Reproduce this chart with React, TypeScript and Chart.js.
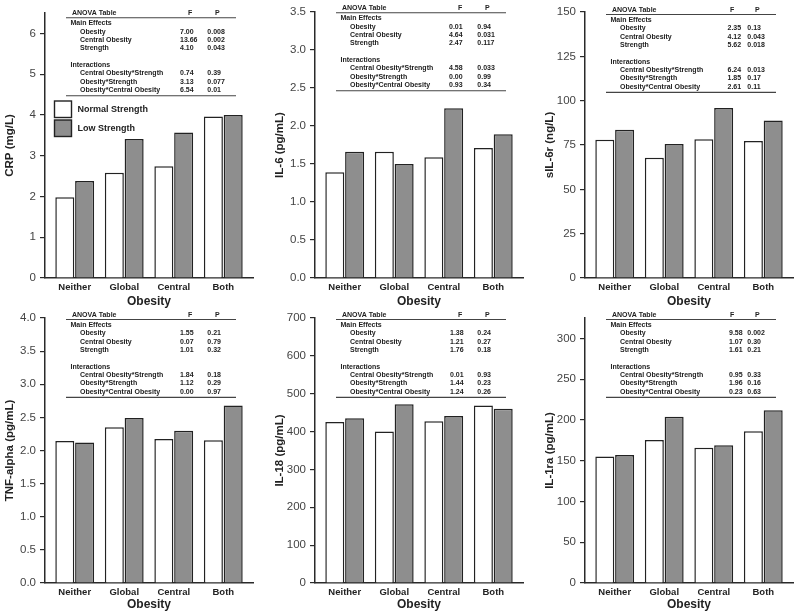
import React, { useEffect, useRef } from 'react';
import { Chart, registerables } from 'chart.js';

Chart.register(...registerables);

const categories = ['Neither', 'Global', 'Central', 'Both'];
const seriesNames = ['Normal Strength', 'Low Strength'];
const mainEffects = ['Obesity', 'Central Obesity', 'Strength'];
const interactions = ['Central Obesity*Strength', 'Obesity*Strength', 'Obesity*Central Obesity'];

const crpNormal = [1.98, 2.58, 2.74, 3.96];
const crpLow = [2.38, 3.41, 3.57, 4.0];
const il6Normal = [1.39, 1.66, 1.59, 1.71];
const il6Low = [1.66, 1.5, 2.235, 1.89];
const sil6rNormal = [77.9, 67.8, 78.3, 77.3];
const sil6rLow = [83.6, 75.6, 95.8, 88.8];
const tnfNormal = [2.145, 2.35, 2.175, 2.155];
const tnfLow = [2.12, 2.49, 2.3, 2.68];
const il18Normal = [425, 400, 427, 469];
const il18Low = [435, 472, 441, 460];
const il1raNormal = [155, 175.5, 166, 186];
const il1raLow = [157, 204, 169, 212];

const crpTicks = [0, 1, 2, 3, 4, 5, 6];
const il6Ticks = [0, 0.5, 1, 1.5, 2, 2.5, 3, 3.5];
const sil6rTicks = [0, 25, 50, 75, 100, 125, 150];
const tnfTicks = [0, 0.5, 1, 1.5, 2, 2.5, 3, 3.5, 4];
const il18Ticks = [0, 100, 200, 300, 400, 500, 600, 700];
const il1raTicks = [0, 50, 100, 150, 200, 250, 300];

const crpF = ['7.00', '13.66', '4.10', '0.74', '3.13', '6.54'];
const crpP = ['0.008', '0.002', '0.043', '0.39', '0.077', '0.01'];
const il6F = ['0.01', '4.64', '2.47', '4.58', '0.00', '0.93'];
const il6P = ['0.94', '0.031', '0.117', '0.033', '0.99', '0.34'];
const sil6rF = ['2.35', '4.12', '5.62', '6.24', '1.85', '2.61'];
const sil6rP = ['0.13', '0.043', '0.018', '0.013', '0.17', '0.11'];
const tnfF = ['1.55', '0.07', '1.01', '1.84', '1.12', '0.00'];
const tnfP = ['0.21', '0.79', '0.32', '0.18', '0.29', '0.97'];
const il18F = ['1.38', '1.21', '1.76', '0.01', '1.44', '1.24'];
const il18P = ['0.24', '0.27', '0.18', '0.93', '0.23', '0.26'];
const il1raF = ['9.58', '1.07', '1.61', '0.95', '1.96', '0.23'];
const il1raP = ['0.002', '0.30', '0.21', '0.33', '0.16', '0.63'];

const FAM = "'Liberation Sans', Arial, Helvetica, sans-serif";
const INK = '#222222';
const GREY = '#8e8e8e';

type PanelDef = {
  left: number; top: number; padTop: number; xHeight: number;
  yTitle: string; max: number; ticks: number[]; decimals: number;
  normal: number[]; low: number[]; F: string[]; P: string[];
  tableTop: number; fColX: number; fHeadX: number; legend?: boolean;
};

const panels: PanelDef[] = [
  { left: 0, top: 0, padTop: 13, xHeight: 32, yTitle: 'CRP (mg/L)', max: 6.5, ticks: crpTicks, decimals: 0, normal: crpNormal, low: crpLow, F: crpF, P: crpP, tableTop: 13.3, fColX: 180, fHeadX: 188, legend: true },
  { left: 270, top: 0, padTop: 12, xHeight: 32, yTitle: 'IL-6 (pg/mL)', max: 3.5, ticks: il6Ticks, decimals: 1, normal: il6Normal, low: il6Low, F: il6F, P: il6P, tableTop: 8.3, fColX: 179, fHeadX: 188 },
  { left: 540, top: 0, padTop: 12, xHeight: 32, yTitle: 'sIL-6r (ng/L)', max: 150, ticks: sil6rTicks, decimals: 0, normal: sil6rNormal, low: sil6rLow, F: sil6rF, P: sil6rP, tableTop: 10, fColX: 187.5, fHeadX: 190 },
  { left: 0, top: 303, padTop: 15, xHeight: 30, yTitle: 'TNF-alpha (pg/mL)', max: 4, ticks: tnfTicks, decimals: 1, normal: tnfNormal, low: tnfLow, F: tnfF, P: tnfP, tableTop: 12, fColX: 180, fHeadX: 188 },
  { left: 270, top: 303, padTop: 15, xHeight: 30, yTitle: 'IL-18 (pg/mL)', max: 700, ticks: il18Ticks, decimals: 0, normal: il18Normal, low: il18Low, F: il18F, P: il18P, tableTop: 12, fColX: 180, fHeadX: 188 },
  { left: 540, top: 303, padTop: 15, xHeight: 30, yTitle: 'IL-1ra (pg/mL)', max: 325, ticks: il1raTicks, decimals: 0, normal: il1raNormal, low: il1raLow, F: il1raF, P: il1raP, tableTop: 12, fColX: 189, fHeadX: 190 },
];

function drawTable(ctx: CanvasRenderingContext2D, p: PanelDef) {
  const T = p.tableTop;
  const x1 = 66, x2 = 236, pCol = 207.3, pHead = 215;
  ctx.save();
  ctx.fillStyle = INK;
  ctx.textBaseline = 'middle';
  ctx.textAlign = 'left';
  ctx.font = `bold 7px ${FAM}`;
  ctx.fillText('ANOVA Table', 72, T);
  ctx.fillText('F', p.fHeadX, T);
  ctx.fillText('P', pHead, T);
  ctx.fillText('Main Effects', 70.5, T + 10);
  const rowY = [T + 18.4, T + 26.7, T + 35, T + 60, T + 68.4, T + 76.7];
  const labels = [...mainEffects, ...interactions];
  labels.forEach((lab, i) => {
    ctx.fillText(lab, 80, rowY[i]);
    ctx.fillText(p.F[i], p.fColX, rowY[i]);
    ctx.fillText(p.P[i], pCol, rowY[i]);
  });
  ctx.fillText('Interactions', 70.5, T + 52);
  ctx.strokeStyle = '#444';
  ctx.lineWidth = 1.1;
  [T + 4.5, T + 82.4].forEach((y) => {
    ctx.beginPath();
    ctx.moveTo(x1, y);
    ctx.lineTo(x2, y);
    ctx.stroke();
  });
  ctx.restore();
}

function drawLegend(ctx: CanvasRenderingContext2D) {
  ctx.save();
  const boxes = [
    { y: 101, fill: '#ffffff', text: seriesNames[0] },
    { y: 120, fill: GREY, text: seriesNames[1] },
  ];
  boxes.forEach((b) => {
    ctx.fillStyle = b.fill;
    ctx.fillRect(54.5, b.y, 17, 16.5);
    ctx.strokeStyle = INK;
    ctx.lineWidth = 1.4;
    ctx.strokeRect(54.5, b.y, 17, 16.5);
    ctx.fillStyle = INK;
    ctx.font = `bold 9px ${FAM}`;
    ctx.textBaseline = 'middle';
    ctx.textAlign = 'left';
    ctx.fillText(b.text, 77.5, b.y + 8.5);
  });
  ctx.restore();
}

function Panel({ p }: { p: PanelDef }) {
  const ref = useRef<HTMLCanvasElement>(null);
  useEffect(() => {
    if (!ref.current) return;
    const overlay = {
      id: 'anovaOverlay',
      afterDraw(chart: any) {
        const ctx = chart.ctx as CanvasRenderingContext2D;
        drawTable(ctx, p);
        if (p.legend) drawLegend(ctx);
      },
    };
    const chart = new Chart(ref.current, {
      type: 'bar',
      data: {
        datasets: [
          {
            label: seriesNames[0],
            data: p.normal.map((v, i) => ({ x: i, y: v })),
            backgroundColor: '#ffffff',
            borderColor: INK,
            borderWidth: 1.5,
          },
          {
            label: seriesNames[1],
            data: p.low.map((v, i) => ({ x: i, y: v })),
            backgroundColor: GREY,
            borderColor: INK,
            borderWidth: 1.5,
          },
        ],
      },
      options: {
        responsive: false,
        animation: false,
        devicePixelRatio: 1,
        layout: { padding: { top: p.padTop, right: 7, left: 0, bottom: 0 } },
        plugins: { legend: { display: false }, tooltip: { enabled: false } },
        datasets: { bar: { categoryPercentage: 0.8, barPercentage: 0.96 } },
        scales: {
          x: {
            type: 'linear',
            min: -0.6,
            max: 3.6,
            offset: false,
            grid: { display: false, drawTicks: false, offset: false },
            border: { display: true, color: '#2a2a2a', width: 1.5 },
            ticks: {
              font: { family: FAM, size: 9.5, weight: 'bold' },
              color: INK,
              padding: 4,
              autoSkip: false,
              maxRotation: 0,
              callback: (v: any) => categories[Math.round(Number(v))] ?? '',
            },
            afterBuildTicks: (s: any) => {
              s.ticks = categories.map((_, i) => ({ value: i }));
            },
            afterFit: (s: any) => {
              s.height = p.xHeight;
            },
            title: {
              display: true,
              text: 'Obesity',
              font: { family: FAM, size: 12, weight: 'bold' },
              color: INK,
              padding: { top: 0, bottom: 1.5 },
            },
          },
          y: {
            min: 0,
            max: p.max,
            grid: { display: true, drawOnChartArea: false, drawTicks: true, tickLength: 5, color: '#2a2a2a', lineWidth: 1.2 },
            border: { display: true, color: '#2a2a2a', width: 1.5 },
            ticks: {
              font: { family: FAM, size: 11.5 },
              color: '#444444',
              padding: 4,
              callback: (v: any) => Number(v).toFixed(p.decimals),
            },
            afterBuildTicks: (s: any) => {
              s.ticks = p.ticks.map((v) => ({ value: v }));
            },
            afterFit: (s: any) => {
              s.width = 45;
            },
            title: {
              display: true,
              text: p.yTitle,
              font: { family: FAM, size: 11.5, weight: 'bold' },
              color: INK,
              padding: { top: 3, bottom: 0 },
            },
          },
        },
      } as any,
      plugins: [overlay],
    });
    return () => chart.destroy();
  }, [p]);
  return (
    <canvas
      ref={ref}
      width={260}
      height={310}
      style={{ position: 'absolute', left: p.left, top: p.top, width: 260, height: 310 }}
    />
  );
}

export default function App() {
  return (
    <div style={{ position: 'absolute', left: 0, top: 0, width: 800, height: 613, background: '#ffffff', overflow: 'hidden' }}>
      {panels.map((p, i) => (
        <Panel key={i} p={p} />
      ))}
    </div>
  );
}
